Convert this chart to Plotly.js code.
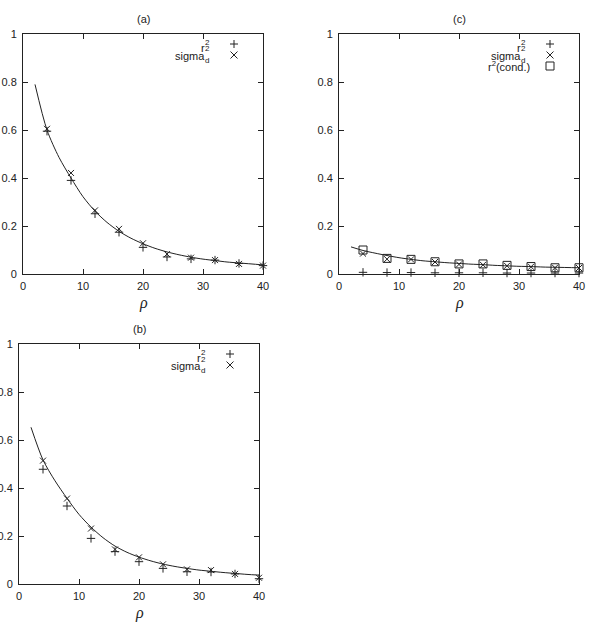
<!DOCTYPE html>
<html>
<head>
<meta charset="utf-8">
<script src="https://cdn.plot.ly/plotly-3.0.1.min.js"></script>
<style>
  html, body { margin: 0; padding: 0; background: #fff; }
  #chart { width: 589px; height: 630px; }
</style>
</head>
<body>
<div id="chart"></div>
<script>
// Sampled densities and the fitted-curve abscissae
const rho = [4, 8, 12, 16, 20, 24, 28, 32, 36, 40];
const rhoFit = [2, 4, 6, 8, 10, 12, 14, 16, 18, 20, 22, 24, 26, 28, 30, 32, 34, 36, 38, 40];

// Panel (a)
const aR2    = [0.595, 0.390, 0.251, 0.174, 0.111, 0.071, 0.063, 0.058, 0.044, 0.035];
const aSigma = [0.605, 0.421, 0.265, 0.188, 0.128, 0.083, 0.068, 0.058, 0.042, 0.035];
const aFit   = [0.790, 0.600, 0.486, 0.400, 0.322, 0.262, 0.215, 0.178, 0.149, 0.126,
                0.107, 0.092, 0.080, 0.070, 0.062, 0.056, 0.050, 0.046, 0.042, 0.038];

// Panel (b)
const bR2    = [0.478, 0.325, 0.190, 0.135, 0.093, 0.065, 0.051, 0.050, 0.042, 0.022];
const bSigma = [0.514, 0.356, 0.231, 0.144, 0.111, 0.082, 0.061, 0.058, 0.042, 0.026];
const bFit   = [0.653, 0.517, 0.430, 0.357, 0.290, 0.237, 0.193, 0.158, 0.132, 0.112,
                0.096, 0.083, 0.073, 0.065, 0.058, 0.053, 0.048, 0.044, 0.040, 0.037];

// Panel (c)
const cR2    = [0.007, 0.006, 0.006, 0.005, 0.005, 0.005, 0.004, 0.004, 0.004, 0.004];
const cSigma = [0.085, 0.062, 0.061, 0.050, 0.040, 0.038, 0.034, 0.030, 0.026, 0.025];
const cCond  = [0.100, 0.065, 0.061, 0.051, 0.042, 0.042, 0.036, 0.031, 0.026, 0.026];
const cFit   = [0.113, 0.098, 0.087, 0.077, 0.068, 0.061, 0.055, 0.051, 0.047, 0.044,
                0.041, 0.039, 0.036, 0.034, 0.032, 0.031, 0.029, 0.028, 0.027, 0.026];

const panelTitles = ['(a)', '(b)', '(c)'];
const xTitle = 'ρ';

const INK = '#222';
const FONT = 'Liberation Sans, Arial, Helvetica, sans-serif';
const W = 589, H = 630;

// Plot-area boxes in page pixels: left, top, size
const boxA = { l: 23, t: 34, s: 240 };
const boxC = { l: 339, t: 34, s: 240 };
const boxB = { l: 19, t: 344, s: 240 };

const px = v => v / W;
const py = v => 1 - v / H;

function xDom(b) { return [px(b.l), px(b.l + b.s)]; }
function yDom(b) { return [py(b.t + b.s), py(b.t)]; }

function axisBase(extra) {
  return Object.assign({
    ticks: 'inside', ticklen: 5, tickcolor: INK, tickwidth: 1,
    showline: true, linecolor: INK, linewidth: 1, mirror: 'ticks',
    showgrid: false, zeroline: false, fixedrange: true,
    tickfont: { family: FONT, size: 11, color: INK }
  }, extra);
}
function xAxis(b, anchor) {
  return axisBase({ domain: xDom(b), anchor: anchor, range: [0, 40], tick0: 0, dtick: 10,
                    ticklabelstandoff: 2 });
}
function yAxis(b, anchor) {
  return axisBase({ domain: yDom(b), anchor: anchor, range: [0, 1], tick0: 0, dtick: 0.2,
                    ticklabelstandoff: 3 });
}

function fitTrace(y, xa, ya) {
  return { x: rhoFit, y: y, xaxis: xa, yaxis: ya, type: 'scatter', mode: 'lines',
           line: { color: INK, width: 1, shape: 'spline', smoothing: 0.8 },
           hoverinfo: 'skip', showlegend: false };
}
function pointTrace(y, xa, ya, symbol, size) {
  return { x: rho, y: y, xaxis: xa, yaxis: ya, type: 'scatter', mode: 'markers',
           cliponaxis: false,
           marker: { symbol: symbol, size: size, color: INK, line: { color: INK, width: 1 } },
           showlegend: false };
}

const PLUS = 'cross-thin-open', CROSS = 'x-thin-open', SQUARE = 'square-open';

const data = [
  fitTrace(aFit, 'x', 'y'),
  pointTrace(aR2, 'x', 'y', PLUS, 6),
  pointTrace(aSigma, 'x', 'y', CROSS, 6),

  fitTrace(cFit, 'x2', 'y2'),
  pointTrace(cR2, 'x2', 'y2', PLUS, 6),
  pointTrace(cSigma, 'x2', 'y2', CROSS, 6),
  pointTrace(cCond, 'x2', 'y2', SQUARE, 8),

  fitTrace(bFit, 'x3', 'y3'),
  pointTrace(bR2, 'x3', 'y3', PLUS, 6),
  pointTrace(bSigma, 'x3', 'y3', CROSS, 6)
];

// Key: labels right-aligned, sample symbol to their right (gnuplot style)
const annotations = [];
const shapes = [];

function text(x, y, str, size, anchor, extra) {
  annotations.push(Object.assign({
    xref: 'paper', yref: 'paper', x: px(x), y: py(y), text: str, showarrow: false,
    xanchor: anchor, yanchor: 'middle', borderpad: 0, borderwidth: 0,
    font: { family: FONT, size: size, color: INK }
  }, extra || {}));
}

function keySymbol(kind, cx, cy) {
  const base = { type: 'path', xref: 'paper', yref: 'paper', xsizemode: 'pixel', ysizemode: 'pixel',
                 xanchor: px(cx), yanchor: py(cy), line: { color: INK, width: 1 } };
  if (kind === 'plus') base.path = 'M-4,0L4,0M0,-4L0,4';
  if (kind === 'cross') base.path = 'M-3.5,-3.5L3.5,3.5M-3.5,3.5L3.5,-3.5';
  if (kind === 'square') base.path = 'M-4,-4L4,-4L4,4L-4,4Z';
  shapes.push(base);
}

function key(b, rows) {
  const tx = b.l + 182, sx = b.l + 211;
  rows.forEach(function (r, i) {
    const rowY = b.t + 10 + i * 11;
    keySymbol(r.sym, sx, rowY);
    if (r.kind === 'r2') {
      text(tx, b.t + 14, 'r', 11, 'right');
      text(tx, b.t + 8.5, '2', 8, 'left');
      text(tx, b.t + 15, '2', 8, 'left');
    } else if (r.kind === 'sigma') {
      text(tx, b.t + 22, 'sigma', 11, 'right');
      text(tx, b.t + 26, 'd', 8, 'left');
    } else if (r.kind === 'cond') {
      text(b.l + 191, b.t + 32.5, 'r<sup>2</sup>(cond.)', 11, 'right');
    }
  });
}

key(boxA, [{ kind: 'r2', sym: 'plus' }, { kind: 'sigma', sym: 'cross' }]);
key(boxB, [{ kind: 'r2', sym: 'plus' }, { kind: 'sigma', sym: 'cross' }]);
key(boxC, [{ kind: 'r2', sym: 'plus' }, { kind: 'sigma', sym: 'cross' }, { kind: 'cond', sym: 'square' }]);

// Panel titles and x-axis labels
[[boxA, panelTitles[0]], [boxB, panelTitles[1]], [boxC, panelTitles[2]]].forEach(function (p) {
  const b = p[0];
  text(b.l + b.s / 2, b.t - 15, p[1], 11, 'center');
  text(b.l + b.s / 2, b.t + b.s + 29, xTitle, 16, 'center',
       { font: { family: 'Liberation Serif, Times New Roman, serif', size: 16, color: INK, style: 'italic' } });
});

const layout = {
  width: W, height: H,
  margin: { l: 0, r: 0, t: 0, b: 0, pad: 0 },
  paper_bgcolor: '#fff', plot_bgcolor: '#fff',
  showlegend: false,
  xaxis: xAxis(boxA, 'y'),
  yaxis: yAxis(boxA, 'x'),
  xaxis2: xAxis(boxC, 'y2'),
  yaxis2: yAxis(boxC, 'x2'),
  xaxis3: xAxis(boxB, 'y3'),
  yaxis3: yAxis(boxB, 'x3'),
  annotations: annotations,
  shapes: shapes
};

Plotly.newPlot('chart', data, layout, { displayModeBar: false, staticPlot: true });
</script>
</body>
</html>
